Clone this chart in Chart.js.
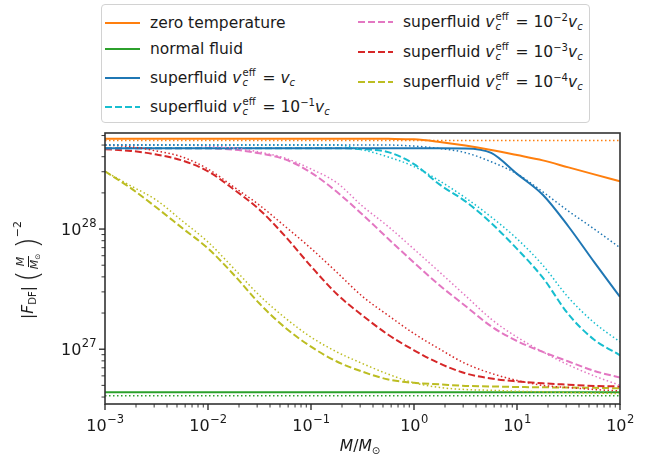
<!DOCTYPE html>
<html>
<head>
<meta charset="utf-8">
<script src="https://cdn.jsdelivr.net/npm/chart.js@4.4.1/dist/chart.umd.min.js"></script>
<style>
  body { margin: 0; background: #fff; font-family: "DejaVu Sans", sans-serif; color: #1a1a1a; }
  #wrap { position: relative; width: 662px; height: 465px; overflow: hidden; }
  #chart { position: absolute; left: 0; top: 0; }
  #legend { position: absolute; left: 101px; top: 4px; width: 487px; height: 117px;
            border: 1px solid #d2d2d2; border-radius: 4px; background: #fff; }
  .item { position: absolute; display: flex; align-items: center; font-size: 15.5px;
          white-space: nowrap; height: 20px; transform: translateY(-50%); }
  .item svg { margin-right: 10px; flex: none; }
  .ss { display: inline-flex; flex-direction: column; font-size: 10px; line-height: 10px;
        vertical-align: 7px; margin: 0 2px 0 1px; }
  sup { font-size: 0.65em; vertical-align: 0.55em; line-height: 0; }
  sub { font-size: 0.65em; vertical-align: -0.3em; line-height: 0; }
  #ylabel { position: absolute; left: 28px; top: 270px; transform: translate(-50%, -50%) rotate(-90deg);
            font-size: 15.5px; white-space: nowrap; display: flex; align-items: center; }
  #ylabel .frac { display: inline-flex; flex-direction: column; align-items: center; font-size: 11px;
                  line-height: 1.15; margin: 0 1px; }
  #ylabel .frac span:first-child { border-bottom: 1px solid #1a1a1a; padding: 0 1px; }
  #ylabel .big { font-size: 30px; line-height: 1; font-weight: 200; margin-left: 4px; }
  #ylabel .pow { font-size: 11px; align-self: flex-start; margin-top: -2px; }
  #xlabel { position: absolute; left: 360px; top: 446px; transform: translate(-50%, -50%); font-size: 15.5px; }
</style>
</head>
<body>
<div id="wrap">
  <canvas id="chart" width="662" height="465"></canvas>
  <div id="legend"></div>
  <div id="ylabel"><span>|<i>F</i><sub>DF</sub>|</span><span class="big">(</span><span class="frac"><span><i>M</i></span><span><i>M</i><sub>⊙</sub></span></span><span class="big">)</span><span class="pow">−2</span></div>
  <div id="xlabel"><i>M</i>/<i>M</i><sub>⊙</sub></div>
</div>
<script>
// M / M_sun, quarter-decade grid
const masses = [1e-3, 1.78e-3, 3.16e-3, 5.62e-3, 1e-2, 1.78e-2, 3.16e-2, 5.62e-2, 0.1, 0.178, 0.316,
  0.562, 1, 1.78, 3.16, 5.62, 10, 17.8, 31.6, 56.2, 100];

// |F_DF| (M/M_sun)^-2
const zeroTemp = [5.65e28, 5.65e28, 5.65e28, 5.65e28, 5.65e28, 5.65e28, 5.65e28, 5.65e28, 5.65e28, 5.65e28, 5.65e28,
  5.63e28, 5.58e28, 5.3e28, 4.95e28, 4.55e28, 4.13e28, 3.73e28, 3.26e28, 2.85e28, 2.5e28];
const zeroTempApprox = [5.45e28, 5.45e28, 5.45e28, 5.45e28, 5.45e28, 5.45e28, 5.45e28, 5.45e28, 5.45e28, 5.45e28, 5.45e28,
  5.45e28, 5.45e28, 5.45e28, 5.45e28, 5.45e28, 5.45e28, 5.45e28, 5.45e28, 5.45e28, 5.45e28];
const normalFluid = [4.38e26, 4.38e26, 4.38e26, 4.38e26, 4.38e26, 4.38e26, 4.38e26, 4.38e26, 4.38e26, 4.38e26, 4.38e26,
  4.38e26, 4.38e26, 4.38e26, 4.38e26, 4.38e26, 4.38e26, 4.38e26, 4.38e26, 4.38e26, 4.38e26];
const normalFluidApprox = [4.1e26, 4.1e26, 4.1e26, 4.1e26, 4.1e26, 4.1e26, 4.1e26, 4.1e26, 4.1e26, 4.1e26, 4.1e26,
  4.1e26, 4.1e26, 4.1e26, 4.1e26, 4.1e26, 4.1e26, 4.1e26, 4.1e26, 4.1e26, 4.1e26];
const sfVc = [4.7e28, 4.7e28, 4.7e28, 4.7e28, 4.7e28, 4.7e28, 4.7e28, 4.7e28, 4.7e28, 4.7e28, 4.7e28,
  4.7e28, 4.7e28, 4.7e28, 4.69e28, 4.3e28, 2.88e28, 1.93e28, 1.05e28, 5.3e27, 2.73e27];
const sfVcApprox = [5.0e28, 5.0e28, 5.0e28, 5.0e28, 5.0e28, 5.0e28, 5.0e28, 5.0e28, 5.0e28, 5.0e28, 5.0e28,
  5.0e28, 4.9e28, 4.68e28, 4.32e28, 3.63e28, 2.88e28, 2.04e28, 1.41e28, 1.0e28, 7.0e27];
const sf1e1 = [4.7e28, 4.7e28, 4.7e28, 4.7e28, 4.7e28, 4.7e28, 4.7e28, 4.7e28, 4.7e28, 4.7e28, 4.62e28,
  4.37e28, 3.47e28, 2.34e28, 1.7e28, 1.12e28, 6.84e27, 3.94e27, 1.95e27, 1.2e27, 8.9e26];
const sf1e1Approx = [5.0e28, 5.0e28, 5.0e28, 5.0e28, 5.0e28, 5.0e28, 5.0e28, 5.0e28, 5.0e28, 5.0e28, 4.57e28,
  3.98e28, 3.31e28, 2.51e28, 1.82e28, 1.26e28, 8.3e27, 5.0e27, 2.69e27, 1.66e27, 1.15e27];
const sf1e2 = [4.7e28, 4.7e28, 4.7e28, 4.7e28, 4.7e28, 4.57e28, 4.27e28, 3.8e28, 2.95e28, 2.04e28, 1.32e28,
  8.3e27, 5.25e27, 3.39e27, 2.29e27, 1.55e27, 1.17e27, 9.5e26, 7.9e26, 6.6e26, 5.8e26];
const sf1e2Approx = [5.0e28, 5.0e28, 5.0e28, 5.0e28, 4.9e28, 4.73e28, 4.37e28, 3.89e28, 3.16e28, 2.43e28, 1.55e28,
  1.05e28, 6.8e27, 4.37e27, 2.79e27, 1.78e27, 1.26e27, 9.5e26, 7.4e26, 6.0e26, 5.0e26];
const sf1e3 = [4.62e28, 4.47e28, 4.17e28, 3.72e28, 3.02e28, 2.14e28, 1.45e28, 8.7e27, 4.9e27, 2.88e27, 1.91e27,
  1.32e27, 9.8e26, 7.6e26, 6.3e26, 5.7e26, 5.4e26, 5.2e26, 5.07e26, 4.95e26, 4.9e26];
const sf1e3Approx = [5.0e28, 4.84e28, 4.47e28, 3.98e28, 3.16e28, 2.24e28, 1.58e28, 1.05e28, 6.9e27, 4.37e27, 2.75e27,
  1.91e27, 1.35e27, 1.0e27, 7.6e26, 6.3e26, 5.5e26, 5.0e26, 4.8e26, 4.62e26, 4.5e26];
const sf1e4 = [3.02e28, 2.19e28, 1.51e28, 1.02e28, 6.9e27, 4.17e27, 2.4e27, 1.51e27, 1.05e27, 7.9e26, 6.5e26,
  5.6e26, 5.25e26, 5.1e26, 4.95e26, 4.9e26, 4.85e26, 4.82e26, 4.8e26, 4.77e26, 4.73e26];
const sf1e4Approx = [3.02e28, 2.29e28, 1.74e28, 1.17e28, 7.8e27, 4.7e27, 2.8e27, 1.82e27, 1.26e27, 9.5e26, 7.6e26,
  6.2e26, 5.25e26, 4.8e26, 4.62e26, 4.55e26, 4.47e26, 4.42e26, 4.37e26, 4.32e26, 4.27e26];

// tick labels are 10^exponent, drawn as base + raised exponent
const xMajorTicks = [1e-3, 1e-2, 1e-1, 1, 10, 100];
const xTickExps = ['−3', '−2', '−1', '0', '1', '2'];
const yMajorTicks = [1e27, 1e28];
const yTickExps = ['27', '28'];

const veff = '<i>v</i><span class="ss"><span>eff</span><i>c</i></span>';
const legendLabels = [
  'zero temperature',
  'normal fluid',
  'superfluid ' + veff + ' = <i>v</i><sub><i>c</i></sub>',
  'superfluid ' + veff + ' = 10<sup>−1</sup><i>v</i><sub><i>c</i></sub>',
  'superfluid ' + veff + ' = 10<sup>−2</sup><i>v</i><sub><i>c</i></sub>',
  'superfluid ' + veff + ' = 10<sup>−3</sup><i>v</i><sub><i>c</i></sub>',
  'superfluid ' + veff + ' = 10<sup>−4</sup><i>v</i><sub><i>c</i></sub>'
];

const colors = ['#ff7f0e', '#2ca02c', '#1f77b4', '#17becf', '#e377c2', '#d62728', '#bcbd22'];
const DASH = [7, 3];
const DOT = [1.5, 2.5];

const mainSeries = [zeroTemp, normalFluid, sfVc, sf1e1, sf1e2, sf1e3, sf1e4];
const approxSeries = [zeroTempApprox, normalFluidApprox, sfVcApprox, sf1e1Approx, sf1e2Approx, sf1e3Approx, sf1e4Approx];
const mainDash = [[], [], [], DASH, DASH, DASH, DASH];

const toPoints = (arr) => arr.map((v, i) => ({ x: masses[i], y: v }));

const datasets = [];
approxSeries.forEach((s, i) => {
  datasets.push({
    data: toPoints(s), borderColor: colors[i], borderWidth: 1.5, borderDash: DOT,
    pointRadius: 0, fill: false, cubicInterpolationMode: 'monotone'
  });
});
mainSeries.forEach((s, i) => {
  datasets.push({
    label: legendLabels[i], data: toPoints(s), borderColor: colors[i], borderWidth: 2, borderDash: mainDash[i],
    pointRadius: 0, fill: false, cubicInterpolationMode: 'monotone'
  });
});

// legend in html so the math can be typeset
const legendPos = [[105, 23], [105, 49], [105, 78], [105, 107], [358, 22], [358, 52], [358, 82]];
const legendEl = document.getElementById('legend');
legendLabels.forEach((lab, i) => {
  const d = document.createElement('div');
  d.className = 'item';
  d.style.left = (legendPos[i][0] - 102) + 'px';
  d.style.top = (legendPos[i][1] - 5) + 'px';
  const dash = mainDash[i].length ? ' stroke-dasharray="' + mainDash[i].join(',') + '"' : '';
  d.innerHTML = '<svg width="35" height="10"><line x1="0" y1="5" x2="35" y2="5" stroke="' + colors[i] +
    '" stroke-width="2"' + dash + '/></svg><span>' + lab + '</span>';
  legendEl.appendChild(d);
});

const isMajor = (list, v) => list.some(m => Math.abs(m - v) / m < 1e-6);

function logTicks(lo, hi) {
  const out = [];
  for (let e = Math.floor(Math.log10(lo)); e <= Math.ceil(Math.log10(hi)); e++) {
    for (let m = 1; m < 10; m++) {
      const v = m * Math.pow(10, e);
      if (v >= lo * 0.999999 && v <= hi * 1.000001) out.push({ value: v });
    }
  }
  return out;
}

// frame, tick marks (long major / short minor) and 10^n labels
const axesPlugin = {
  id: 'axesDeco',
  afterDatasetsDraw(chart) {
    const { ctx, chartArea: a, scales } = chart;
    ctx.save();
    ctx.strokeStyle = '#333';
    ctx.lineWidth = 1.6;
    ctx.strokeRect(a.left, a.top, a.right - a.left, a.bottom - a.top);

    ctx.strokeStyle = '#222';
    scales.x.ticks.forEach(t => {
      const px = scales.x.getPixelForValue(t.value);
      const major = isMajor(xMajorTicks, t.value);
      ctx.lineWidth = major ? 1.3 : 0.9;
      ctx.beginPath();
      ctx.moveTo(px, a.bottom);
      ctx.lineTo(px, a.bottom + (major ? 6 : 3.5));
      ctx.stroke();
    });
    scales.y.ticks.forEach(t => {
      const py = scales.y.getPixelForValue(t.value);
      const major = isMajor(yMajorTicks, t.value);
      ctx.lineWidth = major ? 1.3 : 0.9;
      ctx.beginPath();
      ctx.moveTo(a.left, py);
      ctx.lineTo(a.left - (major ? 6 : 3.5), py);
      ctx.stroke();
    });

    ctx.fillStyle = '#1a1a1a';
    ctx.textBaseline = 'alphabetic';
    ctx.textAlign = 'left';
    const baseFont = '16px "DejaVu Sans"';
    const expFont = '11.5px "DejaVu Sans"';
    const measure = (base, exp) => {
      ctx.font = baseFont; const wb = ctx.measureText(base).width;
      ctx.font = expFont; const we = ctx.measureText(exp).width;
      return [wb, we];
    };
    xMajorTicks.forEach((v, i) => {
      const px = scales.x.getPixelForValue(v);
      const [wb, we] = measure('10', xTickExps[i]);
      const x0 = px - (wb + we) / 2;
      ctx.font = baseFont; ctx.fillText('10', x0, a.bottom + 27);
      ctx.font = expFont; ctx.fillText(xTickExps[i], x0 + wb + 0.5, a.bottom + 19);
    });
    yMajorTicks.forEach((v, i) => {
      const py = scales.y.getPixelForValue(v);
      const [wb, we] = measure('10', yTickExps[i]);
      const x0 = a.left - 9 - wb - we;
      ctx.font = baseFont; ctx.fillText('10', x0, py + 6);
      ctx.font = expFont; ctx.fillText(yTickExps[i], x0 + wb + 0.5, py - 2);
    });
    ctx.restore();
  }
};

Chart.defaults.font.family = 'DejaVu Sans';
Chart.defaults.color = '#1a1a1a';

new Chart(document.getElementById('chart'), {
  type: 'line',
  data: { datasets },
  options: {
    responsive: false,
    animation: false,
    devicePixelRatio: 1,
    layout: { padding: { top: 133, right: 42, left: 0, bottom: 0 } },
    plugins: { legend: { display: false }, tooltip: { enabled: false } },
    scales: {
      x: {
        type: 'logarithmic', min: 1e-3, max: 100,
        afterBuildTicks: (s) => { s.ticks = logTicks(1e-3, 100); },
        afterFit: (s) => { s.height = 61; },
        border: { display: false },
        grid: { display: false },
        ticks: { display: false }
      },
      y: {
        type: 'logarithmic', min: 3.5e26, max: 6.3e28,
        afterBuildTicks: (s) => { s.ticks = logTicks(3.5e26, 6.3e28); },
        afterFit: (s) => { s.width = 105; },
        border: { display: false },
        grid: { display: false },
        ticks: { display: false }
      }
    }
  },
  plugins: [axesPlugin]
});
</script>
</body>
</html>
